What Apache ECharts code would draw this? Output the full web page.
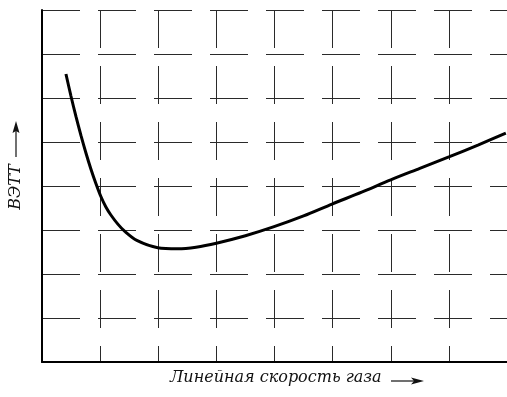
<!DOCTYPE html>
<html>
<head>
<meta charset="utf-8">
<script src="https://cdn.jsdelivr.net/npm/echarts@6/dist/echarts.min.js"></script>
<style>
  html, body { margin: 0; padding: 0; background: #fff; }
  #chart { width: 507px; height: 397px; }
</style>
</head>
<body>
<div id="chart"></div>
<script>
// Van Deemter curve: plate height vs. linear carrier-gas velocity (arbitrary units)
const velocity = [0.412, 0.498, 0.584, 0.670, 0.756, 0.841, 0.927, 1.013, 1.099, 1.185, 1.305, 1.425, 1.631, 1.991, 2.335, 2.65, 3.0, 3.5, 3.98, 4.5, 4.99, 5.5, 6.0, 6.5, 7.0, 7.5, 7.98];
const plateHeight = [6.545, 6.045, 5.58, 5.15, 4.75, 4.386, 4.057, 3.761, 3.523, 3.341, 3.134, 2.968, 2.764, 2.597, 2.573, 2.61, 2.70, 2.87, 3.07, 3.32, 3.59, 3.86, 4.14, 4.40, 4.66, 4.93, 5.20];

const yAxisTitle = 'ВЭТТ';
const xAxisTitle = 'Линейная скорость газа';

const chart = echarts.init(document.getElementById('chart'));

const gridStyle = { color: '#2a2a2a', width: 1, type: [38, 18] };

chart.setOption({
  animation: false,
  backgroundColor: '#ffffff',
  grid: { left: 42, top: 10, width: 466, height: 352 },
  xAxis: {
    type: 'value', min: 0, max: 8, interval: 1,
    axisLine: { show: true, lineStyle: { color: '#000', width: 2 } },
    axisTick: { show: false }, axisLabel: { show: false },
    splitLine: { show: true, lineStyle: gridStyle }
  },
  yAxis: {
    type: 'value', min: 0, max: 8, interval: 1,
    axisLine: { show: true, lineStyle: { color: '#000', width: 2 } },
    axisTick: { show: false }, axisLabel: { show: false },
    splitLine: { show: true, lineStyle: gridStyle }
  },
  series: [{
    type: 'line',
    data: velocity.map((v, i) => [v, plateHeight[i]]),
    smooth: 0.3,
    showSymbol: false,
    lineStyle: { color: '#000', width: 3 }
  }],
  graphic: [
    {
      type: 'text', left: 170, top: 370,
      style: { text: xAxisTitle, font: 'italic 16px "DejaVu Serif", serif', fill: '#111' }
    },
    {
      type: 'line', shape: { x1: 391, y1: 381, x2: 416, y2: 381 },
      style: { stroke: '#111', lineWidth: 1.2 }
    },
    {
      type: 'polygon', shape: { points: [[424, 381], [411, 377.5], [414, 381], [411, 384.5]] },
      style: { fill: '#111' }
    },
    {
      type: 'text', x: 16, y: 187, rotation: Math.PI / 2,
      style: { text: yAxisTitle, font: 'italic 16px "DejaVu Serif", serif', fill: '#111', align: 'center', verticalAlign: 'middle' }
    },
    {
      type: 'line', shape: { x1: 16, y1: 157, x2: 16, y2: 129 },
      style: { stroke: '#111', lineWidth: 1.2 }
    },
    {
      type: 'polygon', shape: { points: [[16, 121], [12.5, 133], [16, 131], [19.5, 133]] },
      style: { fill: '#111' }
    }
  ]
});
</script>
</body>
</html>
